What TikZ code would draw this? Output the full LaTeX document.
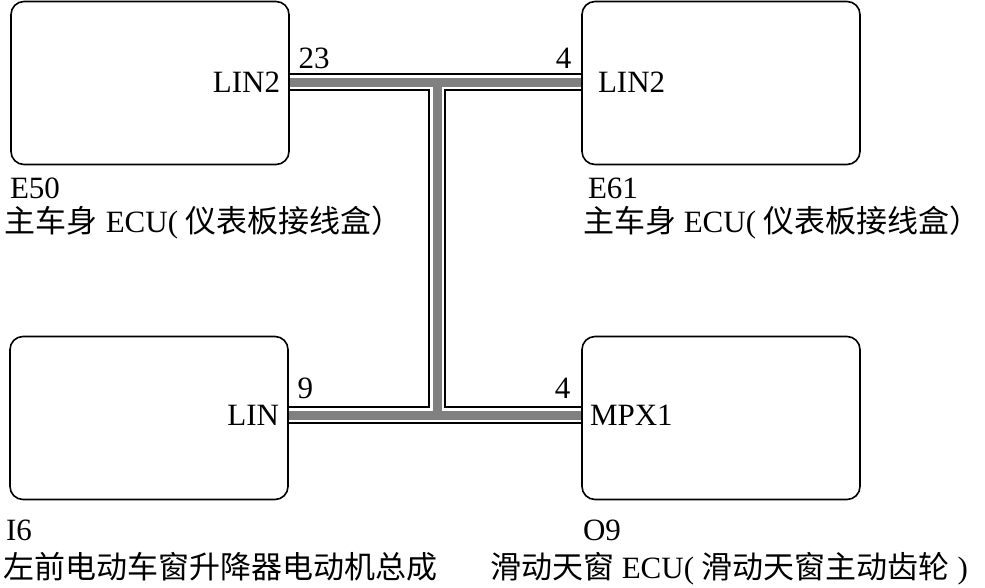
\documentclass[tikz,border=0pt]{standalone}
\usepackage{fontspec}
\setmainfont{Liberation Serif}
\newfontfamily\cjk{Noto Sans CJK SC}
\newcommand{\zh}[1]{{\cjk\fontsize{31pt}{36pt}\selectfont #1}}
\begin{document}
\begin{tikzpicture}[x=1pt,y=-1pt,line width=1.6pt,
  ecu/.style={draw,rounded corners=13pt,minimum width=278pt,minimum height=163pt,inner sep=0pt},
  txt/.style={font=\fontsize{31pt}{36pt}\selectfont,inner sep=0pt}]
\path[use as bounding box] (0,0) rectangle (985,587);
\node[ecu] (e50) at (150,83) {};
\node[ecu] (e61) at (721,83) {};
\node[ecu] (i6) at (149,418) {};
\node[ecu] (o9) at (721,418) {};
\coordinate (j1) at (437,82);
\coordinate (j2) at (437,415);
\foreach \w/\c in {18/black,14/white,9/black!50}
  \draw[line width=\w pt,\c] (e50.east |- j1) -- (e61.west |- j1)
    (j1) -- (j2) (i6.east |- j2) -- (o9.west |- j2);
\node[txt,anchor=east] (e50-pin) at ([xshift=-9pt]e50.east |- j1) {LIN2};
\node[txt,anchor=base west] (e50-no) at ([xshift=8pt,yshift=14pt]e50.east |- j1) {23};
\node[txt,anchor=west] (e61-pin) at ([xshift=16pt]e61.west |- j1) {LIN2};
\node[txt,anchor=base east] (e61-no) at ([xshift=-9pt,yshift=14pt]e61.west |- j1) {4};
\node[txt,anchor=east] (i6-pin) at ([xshift=-9pt]i6.east |- j2) {LIN};
\node[txt,anchor=base west] (i6-no) at ([xshift=8pt,yshift=17pt]i6.east |- j2) {9};
\node[txt,anchor=west] (o9-pin) at ([xshift=8pt]o9.west |- j2) {MPX1};
\node[txt,anchor=base east] (o9-no) at ([xshift=-10pt,yshift=17pt]o9.west |- j2) {4};
\node[txt,anchor=base west] (e50-id) at ([xshift=-1pt,yshift=-33pt]e50.south west) {E50};
\node[txt,anchor=base west] (e50-name) at ([xshift=-6pt,yshift=-67pt]e50.south west) {\zh{主车身} ECU( \zh{仪表板接线盒）}};
\node[txt,anchor=base west] (e61-id) at ([xshift=6pt,yshift=-33pt]e61.south west) {E61};
\node[txt,anchor=base west] (e61-name) at ([xshift=1pt,yshift=-67pt]e61.south west) {\zh{主车身} ECU( \zh{仪表板接线盒）}};
\node[txt,anchor=base west] (i6-id) at ([xshift=-4pt,yshift=-40pt]i6.south west) {I6};
\node[txt,anchor=base west] (i6-name) at ([xshift=-7pt,yshift=-78pt]i6.south west) {\zh{左前电动车窗升降器电动机总成}};
\node[txt,anchor=base west] (o9-id) at ([xshift=1pt,yshift=-40pt]o9.south west) {O9};
\node[txt,anchor=base west] (o9-name) at ([xshift=-92pt,yshift=-78pt]o9.south west) {\zh{滑动天窗} ECU( \zh{滑动天窗主动齿轮} )};
\end{tikzpicture}
\end{document}
